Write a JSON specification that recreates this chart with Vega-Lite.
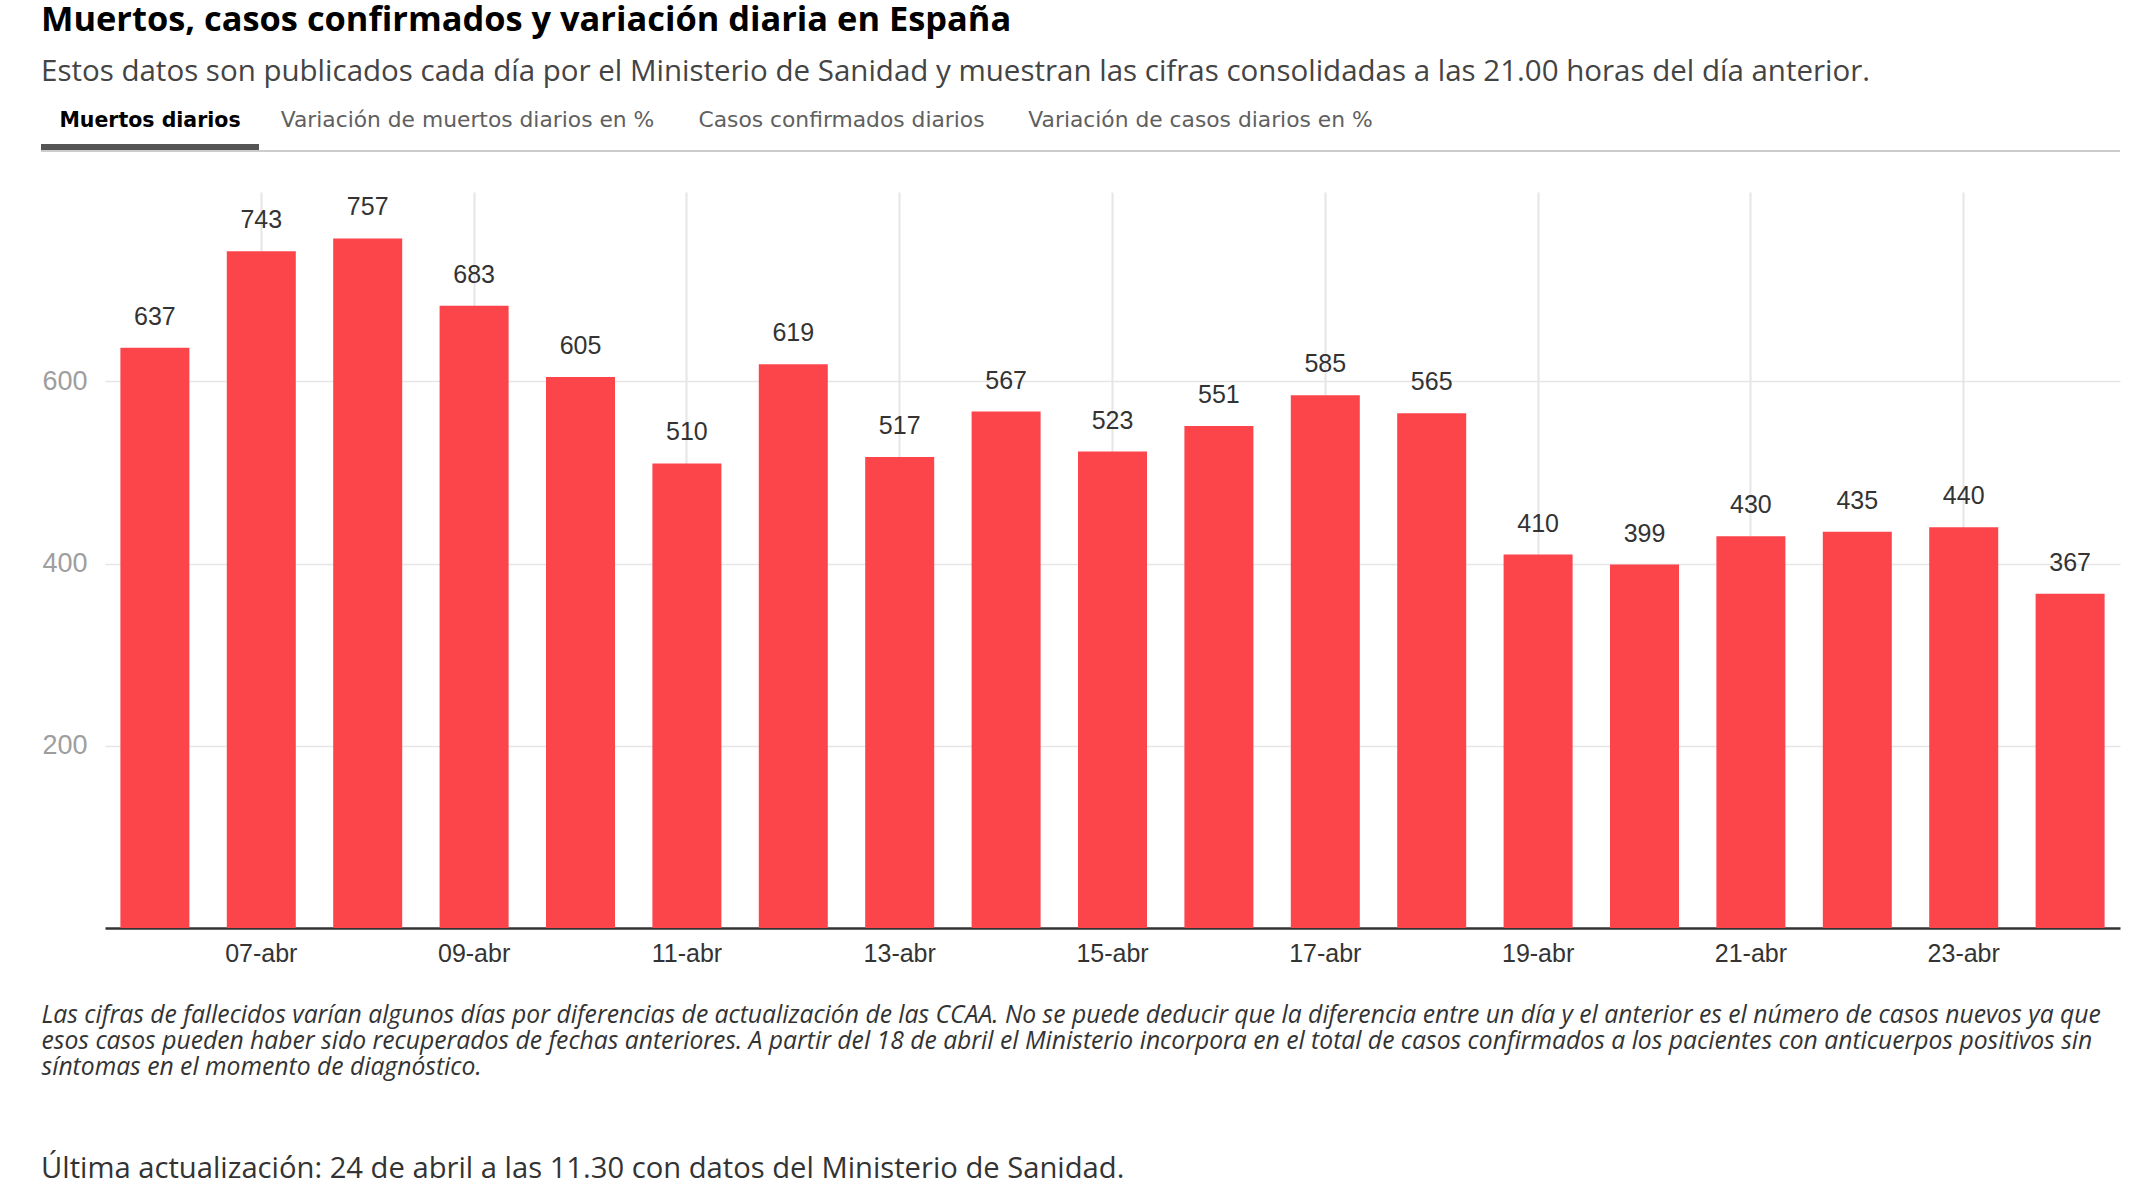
{
  "$schema": "https://vega.github.io/schema/vega-lite/v6.json",
  "background": "white",
  "padding": {"left": 41, "top": 3, "right": 10, "bottom": 10},
  "datasets": {
    "muertos": [
      {"fecha": "06-abr", "muertos": 637},
      {"fecha": "07-abr", "muertos": 743},
      {"fecha": "08-abr", "muertos": 757},
      {"fecha": "09-abr", "muertos": 683},
      {"fecha": "10-abr", "muertos": 605},
      {"fecha": "11-abr", "muertos": 510},
      {"fecha": "12-abr", "muertos": 619},
      {"fecha": "13-abr", "muertos": 517},
      {"fecha": "14-abr", "muertos": 567},
      {"fecha": "15-abr", "muertos": 523},
      {"fecha": "16-abr", "muertos": 551},
      {"fecha": "17-abr", "muertos": 585},
      {"fecha": "18-abr", "muertos": 565},
      {"fecha": "19-abr", "muertos": 410},
      {"fecha": "20-abr", "muertos": 399},
      {"fecha": "21-abr", "muertos": 430},
      {"fecha": "22-abr", "muertos": 435},
      {"fecha": "23-abr", "muertos": 440},
      {"fecha": "24-abr", "muertos": 367}
    ]
  },
  "title": {
    "text": "Muertos, casos confirmados y variación diaria en España",
    "subtitle": "Estos datos son publicados cada día  por el Ministerio de Sanidad y muestran las cifras consolidadas a las 21.00 horas del día anterior.",
    "anchor": "start",
    "font": "Open Sans",
    "fontSize": 34.4,
    "fontWeight": "bold",
    "color": "#000000",
    "subtitleFont": "Open Sans",
    "subtitleFontSize": 29.5,
    "subtitleColor": "#444444",
    "subtitlePadding": 19,
    "offset": 23
  },
  "spacing": 40,
  "vconcat": [
    {
      "spacing": 0,
      "hconcat": [
        {
          "width": 218, "height": 8,
          "data": {"values": [{"pestana": "Muertos diarios"}]},
          "layer": [
            {"mark": {"type": "rect", "color": "#555555"}, "encoding": {}},
            {"mark": {"type": "rect", "color": "#cccccc", "yOffset": 6}, "encoding": {}},
            {"mark": {"type": "text", "font": "DejaVu Sans", "fontSize": 20.5, "fontWeight": "bold", "color": "#000000", "baseline": "alphabetic", "dy": -21},
             "encoding": {"text": {"field": "pestana"}}}
          ]
        },
        {
          "width": 417, "height": 8,
          "data": {"values": [{"pestana": "Variación de muertos diarios en %"}]},
          "layer": [
            {"mark": {"type": "rect", "color": "#cccccc", "yOffset": 6}, "encoding": {}},
            {"mark": {"type": "text", "font": "DejaVu Sans", "fontSize": 21.8, "color": "#606060", "baseline": "alphabetic", "dy": -21},
             "encoding": {"text": {"field": "pestana"}}}
          ]
        },
        {
          "width": 331, "height": 8,
          "data": {"values": [{"pestana": "Casos confirmados diarios"}]},
          "layer": [
            {"mark": {"type": "rect", "color": "#cccccc", "yOffset": 6}, "encoding": {}},
            {"mark": {"type": "text", "font": "DejaVu Sans", "fontSize": 21.8, "color": "#606060", "baseline": "alphabetic", "dy": -21},
             "encoding": {"text": {"field": "pestana"}}}
          ]
        },
        {
          "width": 387, "height": 8,
          "data": {"values": [{"pestana": "Variación de casos diarios en %"}]},
          "layer": [
            {"mark": {"type": "rect", "color": "#cccccc", "yOffset": 6}, "encoding": {}},
            {"mark": {"type": "text", "font": "DejaVu Sans", "fontSize": 21.8, "color": "#606060", "baseline": "alphabetic", "dy": -21},
             "encoding": {"text": {"field": "pestana"}}}
          ]
        },
        {
          "width": 726, "height": 8,
          "data": {"values": [{"pestana": ""}]},
          "mark": {"type": "rect", "color": "#cccccc", "yOffset": 6},
          "encoding": {}
        }
      ]
    },
    {
      "width": 2079,
      "height": 736,
      "data": {"name": "muertos"},
      "title": {
        "text": "Última actualización: 24 de abril a las 11.30 con datos del Ministerio de Sanidad.",
        "orient": "bottom",
        "anchor": "start",
        "font": "Open Sans",
        "fontSize": 29.2,
        "fontWeight": "normal",
        "color": "#333333",
        "offset": 76
      },
      "encoding": {
        "x": {
          "field": "fecha",
          "type": "ordinal",
          "sort": null,
          "scale": {"range": [64, 2079], "paddingInner": 0.3515, "paddingOuter": 0.1447},
          "axis": {
            "values": ["07-abr", "09-abr", "11-abr", "13-abr", "15-abr", "17-abr", "19-abr", "21-abr", "23-abr"],
            "bandPosition": 0.5,
            "labelAngle": 0,
            "labelFont": "Liberation Sans",
            "labelFontSize": 25,
            "labelColor": "#333333",
            "labelPadding": 13,
            "ticks": false,
            "tickSize": 0,
            "domain": true,
            "domainColor": "#333333",
            "domainWidth": 2.5,
            "grid": true,
            "gridColor": "#e6e6e6",
            "gridWidth": 2,
            "title": [
              "Las cifras de fallecidos varían algunos días por diferencias de actualización de las CCAA. No se puede deducir que la diferencia entre un día y el anterior es el número de casos nuevos ya que",
              "esos casos pueden haber sido recuperados de fechas anteriores. A partir del 18 de abril el Ministerio incorpora en el total de casos confirmados a los pacientes  con anticuerpos positivos sin",
              "síntomas en el momento de diagnóstico."
            ],
            "titleFont": "Open Sans",
            "titleFontSize": 24.7,
            "titleFontStyle": "italic",
            "titleFontWeight": "normal",
            "titleColor": "#333333",
            "titleAnchor": "start",
            "titleAlign": "left",
            "titleX": 0,
            "titleLineHeight": 26,
            "titlePadding": 36
          }
        },
        "y": {
          "field": "muertos",
          "type": "quantitative",
          "scale": {"domain": [0, 808], "nice": false},
          "axis": {
            "values": [200, 400, 600],
            "title": null,
            "domain": false,
            "ticks": false,
            "tickSize": 0,
            "grid": true,
            "gridColor": "#e6e6e6",
            "gridWidth": 1.5,
            "labelFont": "Liberation Sans",
            "labelFontSize": 27,
            "labelColor": "#9e9e9e",
            "labelAlign": "left",
            "labelPadding": -1
          }
        }
      },
      "layer": [
        {"mark": {"type": "bar", "color": "#fc444b"}},
        {
          "mark": {"type": "text", "font": "Liberation Sans", "fontSize": 25, "color": "#333333", "baseline": "alphabetic", "dy": -23},
          "encoding": {"text": {"field": "muertos", "type": "quantitative"}}
        }
      ]
    }
  ],
  "config": {
    "font": "Liberation Sans",
    "view": {"stroke": null}
  }
}
